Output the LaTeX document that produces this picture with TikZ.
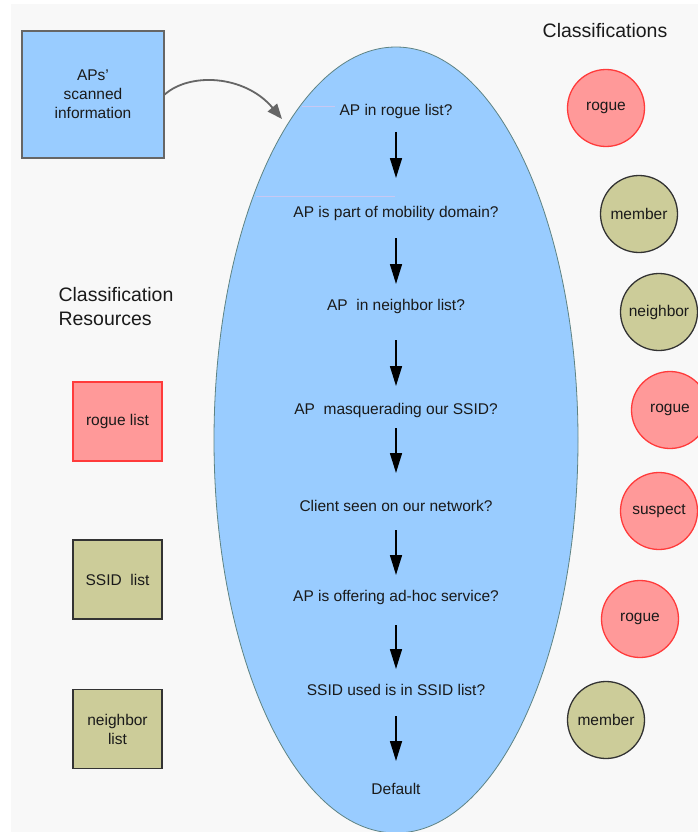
\documentclass[tikz,border=0pt]{standalone}
\usepackage{fontspec}
\setmainfont{Liberation Sans}
\usetikzlibrary{arrows.meta,shapes.geometric}

\definecolor{pagegray}{HTML}{F8F8F8}
\definecolor{flowblue}{HTML}{99CCFF}
\definecolor{flowedge}{HTML}{5E8383}
\definecolor{roguefill}{HTML}{FF9999}
\definecolor{rogueedge}{HTML}{FF3B3B}
\definecolor{olivefill}{HTML}{CCCC99}
\definecolor{oliveedge}{HTML}{333333}
\definecolor{inkgray}{HTML}{1A1A1A}
\definecolor{feedgray}{HTML}{666666}
\definecolor{glitch}{HTML}{C8C8F2}

\begin{document}
\begin{tikzpicture}[x=1pt,y=-1pt,
  every node/.style={font=\fontsize{15.5}{19}\selectfont, text=inkgray},
  heading/.style={font=\fontsize{19.5}{24}\selectfont, align=left},
  resbox/.style={draw, line width=1.3pt, minimum width=89pt, minimum height=79pt, align=center},
  classdot/.style={circle, draw, line width=1.3pt, minimum size=77pt, inner sep=0pt},
  rogue/.style={fill=roguefill, draw=rogueedge},
  olive/.style={fill=olivefill, draw=oliveedge},
  flowarrow/.style={line width=1.6pt, -{Triangle[length=20pt,width=12pt]}}]
  \useasboundingbox (0,0) rectangle (698,832);
  \fill[pagegray] (11,4) rectangle (698,832);

  % the big decision ellipse
  \node[ellipse, draw=flowedge, fill=flowblue, line width=0.8pt, inner sep=0pt,
        minimum width=364pt, minimum height=786pt] (flow) at (396,440) {};
  \draw[glitch, line width=0.8pt] (302,106) -- (335,106);
  \draw[glitch, line width=0.8pt] (256,196) -- (395,196);

  \foreach \n/\y/\t in {1/111/{AP in rogue list?},
                        2/213/{AP is part of mobility domain?},
                        3/306/{AP\ \ in neighbor list?},
                        4/410/{AP\ \ masquerading our SSID?},
                        5/506/{Client seen on our network?},
                        6/597/{AP is offering ad-hoc service?},
                        7/690/{SSID used is in SSID list?},
                        8/789/{Default}}
    \node (q\n) at (396,\y) {\t};

  \foreach \a/\b/\s/\e in {1/2/21/35, 2/3/25/22, 3/4/34/24, 4/5/18/33,
                           5/6/24/22, 6/7/28/21, 7/8/26/28}
    \draw[flowarrow, shorten <=\s pt, shorten >=\e pt] (q\a.center) -- (q\b.center);

  % input
  \node[draw=feedgray, fill=flowblue, line width=1.4pt, minimum width=142pt,
        minimum height=127pt, align=center] (aps) at (93,94.5) {APs'\\scanned\\information};
  \coordinate (feedend) at (282,119);
  \draw[feedgray, line width=1.8pt, -{Triangle[length=15pt,width=12pt]}]
    (aps.east) .. controls (190,72) and (245,75) .. (feedend);

  % classification resources
  \node[heading, anchor=west] (reshead) at (55,307) {Classification\\Resources};
  \node[resbox, rogue] (roguelist) at (117.5,421.5) {rogue list};
  \node[resbox, olive] (ssidlist) at (117.5,579.5) {SSID\ \ list};
  \node[resbox, olive] (nbrlist) at (117.5,729) {neighbor\\list};

  % classifications
  \node[heading] (classhead) at (605,31) {Classifications};
  \node[classdot, rogue] (c1) at (606,108) {rogue};
  \node[classdot, olive] (c2) at (639,214) {member};
  \node[classdot, olive] (c3) at (659,312) {neighbor};
  \node[classdot, rogue] (c4) at (670,410) {rogue};
  \node[classdot, rogue] (c5) at (659,511) {suspect};
  \node[classdot, rogue] (c6) at (640,619) {rogue};
  \node[classdot, olive] (c7) at (606,720) {member};
\end{tikzpicture}
\end{document}
